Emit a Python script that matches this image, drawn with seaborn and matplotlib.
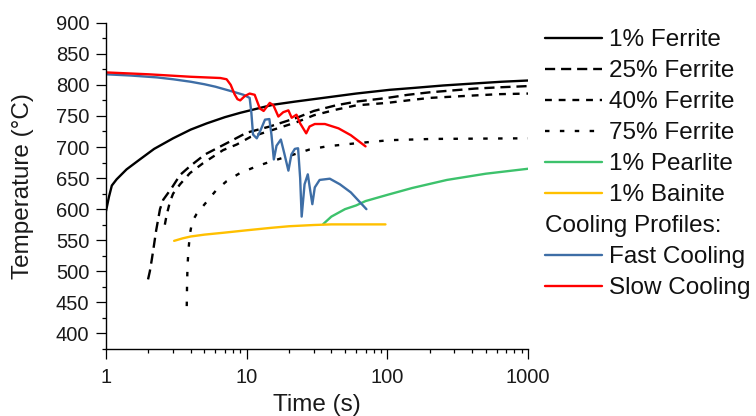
import matplotlib
matplotlib.use("Agg")
import matplotlib.pyplot as plt
import seaborn as sns
import numpy as np
from matplotlib.lines import Line2D
from matplotlib.ticker import MultipleLocator, LogLocator, NullFormatter, FixedLocator, FixedFormatter

# ---------------- data ----------------
ferrite1_t = [1.0, 1.05, 1.1, 1.19, 1.4, 1.74, 2.2, 3.0, 4.0, 5.2, 7.0, 9.0, 12, 15.4, 22, 35, 60, 104, 153, 250, 400, 650, 1000]
ferrite1_T = [597, 620, 638, 648, 664, 680, 697, 714, 728, 738, 748, 755, 762, 768, 773, 779, 786, 792, 795, 799, 802, 805, 807]

ferrite25_t = [1.99, 2.05, 2.12, 2.17, 2.27, 2.42, 2.55, 2.93, 3.36, 3.95, 5.05, 7.2, 10, 14.6, 22.7, 30, 43, 60, 100, 140, 200, 290, 420, 620, 1000]
ferrite25_T = [487, 500, 520, 535, 565, 600, 615, 634, 655, 669, 688, 706, 723, 733, 747, 758, 767, 773, 779, 784, 788, 791, 794, 796, 798]

ferrite40_t = [2.62, 2.67, 2.75, 2.85, 3.0, 3.36, 3.95, 4.9, 6.8, 8.5, 10.6, 14.6, 22.7, 30, 43, 60, 100, 140, 200, 290, 420, 620, 1000]
ferrite40_T = [575, 585, 598, 612, 625, 640, 658, 674, 695, 704, 716, 726, 740, 751, 760, 767, 771, 775, 779, 781, 783, 785, 786]

ferrite75_t = [3.75, 3.77, 3.8, 3.86, 3.95, 4.1, 4.4, 5.2, 6.1, 7.2, 8.95, 11.8, 15, 20.3, 28, 37, 60, 104, 210, 1000]
ferrite75_T = [444, 480, 510, 535, 560, 580, 592, 612, 631, 645, 658, 669, 677, 686, 696, 701, 706, 711, 713, 714]

pearlite_t = [35, 40, 50, 60, 70, 100, 150, 265, 500, 1000]
pearlite_T = [576, 588, 600, 606, 613, 623, 634, 647, 657, 665]

bainite_t = [3.05, 3.5, 4, 5, 6.8, 10, 15, 20, 30, 40, 60, 97]
bainite_T = [549, 553, 556, 559, 562, 566, 570, 572.5, 574.5, 575.5, 575.5, 575.5]

fast_t = [1.0, 1.5, 2.3, 3.0, 4.0, 5.0, 6.0, 8.0, 9.5, 10.5, 10.8, 11.1, 11.8, 12.5, 13.5, 14.5, 15.0, 15.6, 16.3, 17.5, 18.5, 19.8, 20.8, 22.0, 23.2, 24.0, 24.6, 25.8, 27.2, 28.3, 29.3, 30.5, 33.0, 39.0, 46.0, 55.0, 71.0]
fast_T = [817, 815, 812, 809, 805, 801, 797, 789, 784, 779, 755, 720, 714, 726, 744, 745, 720, 680, 702, 712, 690, 662, 688, 697, 698, 650, 588, 640, 656, 630, 608, 635, 647, 649, 640, 627, 600]

slow_t = [1.0, 2.0, 4.0, 6.5, 7.2, 7.7, 8.2, 8.6, 9.0, 9.7, 10.5, 11.4, 12.4, 13.2, 14.6, 15.5, 16.8, 18.2, 19.8, 20.9, 22.6, 24.0, 26.5, 28.0, 30.5, 36.0, 45.0, 55.0, 70.0]
slow_T = [820, 817, 813, 811, 809, 800, 785, 777, 775, 782, 786, 784, 762, 758, 771, 767, 749, 756, 759, 747, 752, 738, 722, 733, 737, 737, 730, 719, 701]

labels = ["1% Ferrite", "25% Ferrite", "40% Ferrite", "75% Ferrite", "1% Pearlite", "1% Bainite",
          "Cooling Profiles:", "Fast Cooling", "Slow Cooling"]
y_ticks = [400, 450, 500, 550, 600, 650, 700, 750, 800, 850, 900]
x_ticks = [1, 10, 100, 1000]
x_ticklabels = ["1", "10", "100", "1000"]

# ---------------- style ----------------
sns.set_style("ticks")
plt.rcParams['font.family'] = ['Liberation Sans', 'DejaVu Sans']
plt.rcParams['text.color'] = '#111111'

fig = plt.figure(figsize=(7.56, 4.16), dpi=100)
W, H = 756, 416
ax = fig.add_axes([106 / W, (H - 349) / H, (528 - 106) / W, (349 - 22.7) / H])

LW = 1.7
series = [
    (ferrite1_t, ferrite1_T, "black", None),
    (ferrite25_t, ferrite25_T, "black", (4.3, 2.5)),
    (ferrite40_t, ferrite40_T, "black", (2.9, 2.9)),
    (ferrite75_t, ferrite75_T, "black", (1.9, 4.4)),
    (pearlite_t, pearlite_T, "#3DC26C", None),
    (bainite_t, bainite_T, "#FFC000", None),
    (fast_t, fast_T, "#3E6EA6", None),
    (slow_t, slow_T, "#FF0000", None),
]
handles = []
for (tx, ty, col, dash) in series:
    sns.lineplot(x=tx, y=ty, ax=ax, color=col, linewidth=LW, estimator=None, sort=False)
    ln = ax.lines[-1]
    h = Line2D([], [], color=col, linewidth=LW, linestyle='-' if dash is None else '--')
    if dash is not None:
        ln.set_dashes(dash)
        h.set_dashes(dash)
    handles.append(h)

ax.set_xscale("log")
ax.set_xlim(1, 1000)
ax.set_ylim(375, 900)
ax.xaxis.set_major_locator(FixedLocator(x_ticks))
ax.xaxis.set_major_formatter(FixedFormatter(x_ticklabels))
ax.xaxis.set_minor_locator(LogLocator(base=10, subs=np.arange(2, 10)))
ax.xaxis.set_minor_formatter(NullFormatter())
ax.yaxis.set_major_locator(FixedLocator(y_ticks))
ax.yaxis.set_minor_locator(MultipleLocator(25))

for s in ["top", "right"]:
    ax.spines[s].set_visible(False)
for s in ["left", "bottom"]:
    ax.spines[s].set_linewidth(1.0)
    ax.spines[s].set_color("black")
ax.spines["left"].set_bounds(375, 900)

ax.tick_params(axis="both", which="major", direction="out", length=7, width=0.9,
               labelsize=14.5, colors="black", labelcolor="#1a1a1a")
ax.tick_params(axis="x", which="major", pad=7)
ax.tick_params(axis="y", which="major", pad=5)
ax.tick_params(axis="both", which="minor", direction="out", length=3, width=0.9, colors="black")

ax.set_xlabel("Time (s)", fontsize=17.5, labelpad=5, color="#1a1a1a")
ax.set_ylabel("Temperature (°C)", fontsize=17.5, labelpad=16, color="#1a1a1a")

# legend with a header row
header = Line2D([], [], color="none", linewidth=0)
leg_handles = handles[:6] + [header] + handles[6:]
leg_labels = labels[:6] + [" "] + labels[7:]
leg = ax.legend(leg_handles, leg_labels, loc="upper left",
                bbox_to_anchor=(545 / W, 1 - 29 / H), bbox_transform=fig.transFigure,
                frameon=False, fontsize=17.5, borderpad=0, borderaxespad=0,
                handlelength=2.35, handletextpad=0.3, labelspacing=0.37)
fig.canvas.draw()
renderer = fig.canvas.get_renderer()
htxt = leg.get_texts()[6]
bb = htxt.get_window_extent(renderer)
lbb = leg.get_window_extent(renderer)
fig.text(lbb.x0 / fig.bbox.width, bb.y0 / fig.bbox.height, labels[6],
         fontsize=17.5, ha="left", va="bottom", color="#111111")

fig.savefig("out.png", dpi=100)
